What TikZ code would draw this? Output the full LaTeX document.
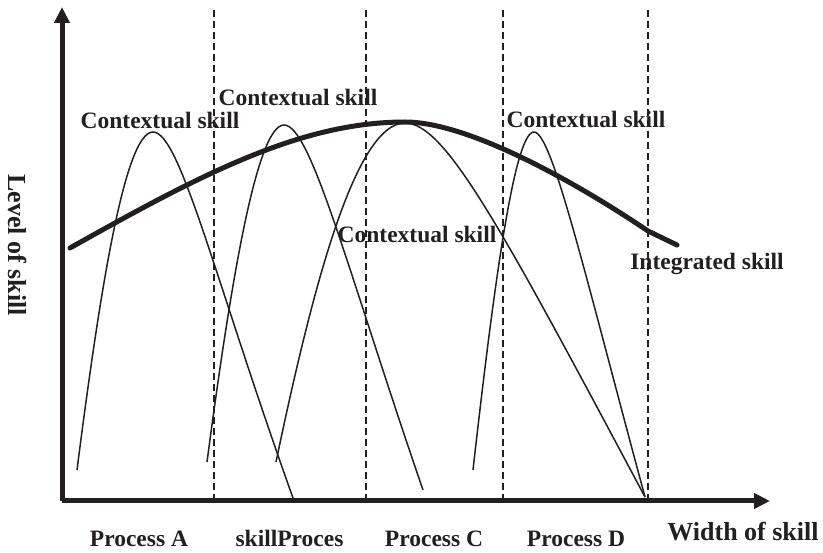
\documentclass[tikz,border=0pt]{standalone}
\usepackage{fontspec}
\setmainfont{Liberation Serif}
\usetikzlibrary{arrows.meta}
\definecolor{ink}{HTML}{231F20}
\begin{document}
\begin{tikzpicture}[x=1pt,y=-1pt,
  axis/.style={draw=ink,line width=5pt,-{Triangle[length=16pt,width=15pt]}},
  divider/.style={draw=ink,line width=1.4pt,dash pattern=on 7pt off 4pt},
  bump/.style={draw=ink,line width=1.5pt},
  overall/.style={draw=ink,line width=5pt,line cap=round,line join=round},
  lbl/.style={text=ink,font=\bfseries\fontsize{23.5}{28}\selectfont,inner sep=0pt,anchor=base},
  axlbl/.style={text=ink,font=\bfseries\fontsize{26}{31}\selectfont,inner sep=0pt}]
\useasboundingbox (0,0) rectangle (823,553);

% axes
\coordinate (origin) at (62,501);
\coordinate (ytip) at (62,7);
\coordinate (xtip) at (770,501);

% process boundaries
\foreach \x/\n in {214/b1,366/b2,503/b3,648/b4}{
  \coordinate (\n top) at (\x,10);
  \coordinate (\n bot) at (\x,499);
  \draw[divider] (\n top) -- (\n bot);
}

% contextual skill curves
\coordinate (a0) at (77,470);  \coordinate (ap) at (153,132); \coordinate (a1) at (293,498);
\coordinate (b0) at (207,462); \coordinate (bp) at (284,125); \coordinate (b1) at (423,490);
\coordinate (c0) at (276,462); \coordinate (cp) at (405,123); \coordinate (c1) at (645,497);
\coordinate (d0) at (473,470); \coordinate (dp) at (534,132); \coordinate (d1) at (645,497);

\draw[bump] (a0) .. controls (100,290) and (125,132) .. (ap)
               .. controls (180,132) and (215,280) .. (a1);
\draw[bump] (b0) .. controls (231,280) and (257,125) .. (bp)
               .. controls (311,125) and (348,272) .. (b1);
\draw[bump] (c0) .. controls (312,290) and (355,123) .. (cp)
               .. controls (445,123) and (500,225) .. (c1);
\draw[bump] (d0) .. controls (495,275) and (515,132) .. (dp)
               .. controls (552,132) and (585,275) .. (d1);

% integrated skill curve
\coordinate (i0) at (70,248);
\coordinate (ip) at (405,122);
\coordinate (ik) at (648,231);
\coordinate (i1) at (677,245);
\draw[overall] (i0) .. controls (200,175) and (300,122) .. (ip)
                  .. controls (470,122) and (580,185) .. (ik) -- (i1);

\draw[axis] (origin) -- (ytip);
\draw[axis] (origin) -- (xtip);

% labels
\node[lbl] (ctxA) at (160,129) {Contextual skill};
\node[lbl] (ctxB) at (298,106) {Contextual skill};
\node[lbl] (ctxC) at (417,243) {Contextual skill};
\node[lbl] (ctxD) at (586,128) {Contextual skill};
\node[lbl] (integ) at (707,270) {Integrated skill};

\node[lbl] (procA) at (139,547) {Process A};
\node[lbl] (procB) at (289.5,547) {skillProces};
\node[lbl] (procC) at (434,547) {Process C};
\node[lbl] (procD) at (576,547) {Process D};

\node[axlbl,anchor=base] (xlab) at (743,540) {Width of skill};
\node[axlbl,rotate=-90] (ylab) at (18,245) {Level of skill};
\end{tikzpicture}
\end{document}
